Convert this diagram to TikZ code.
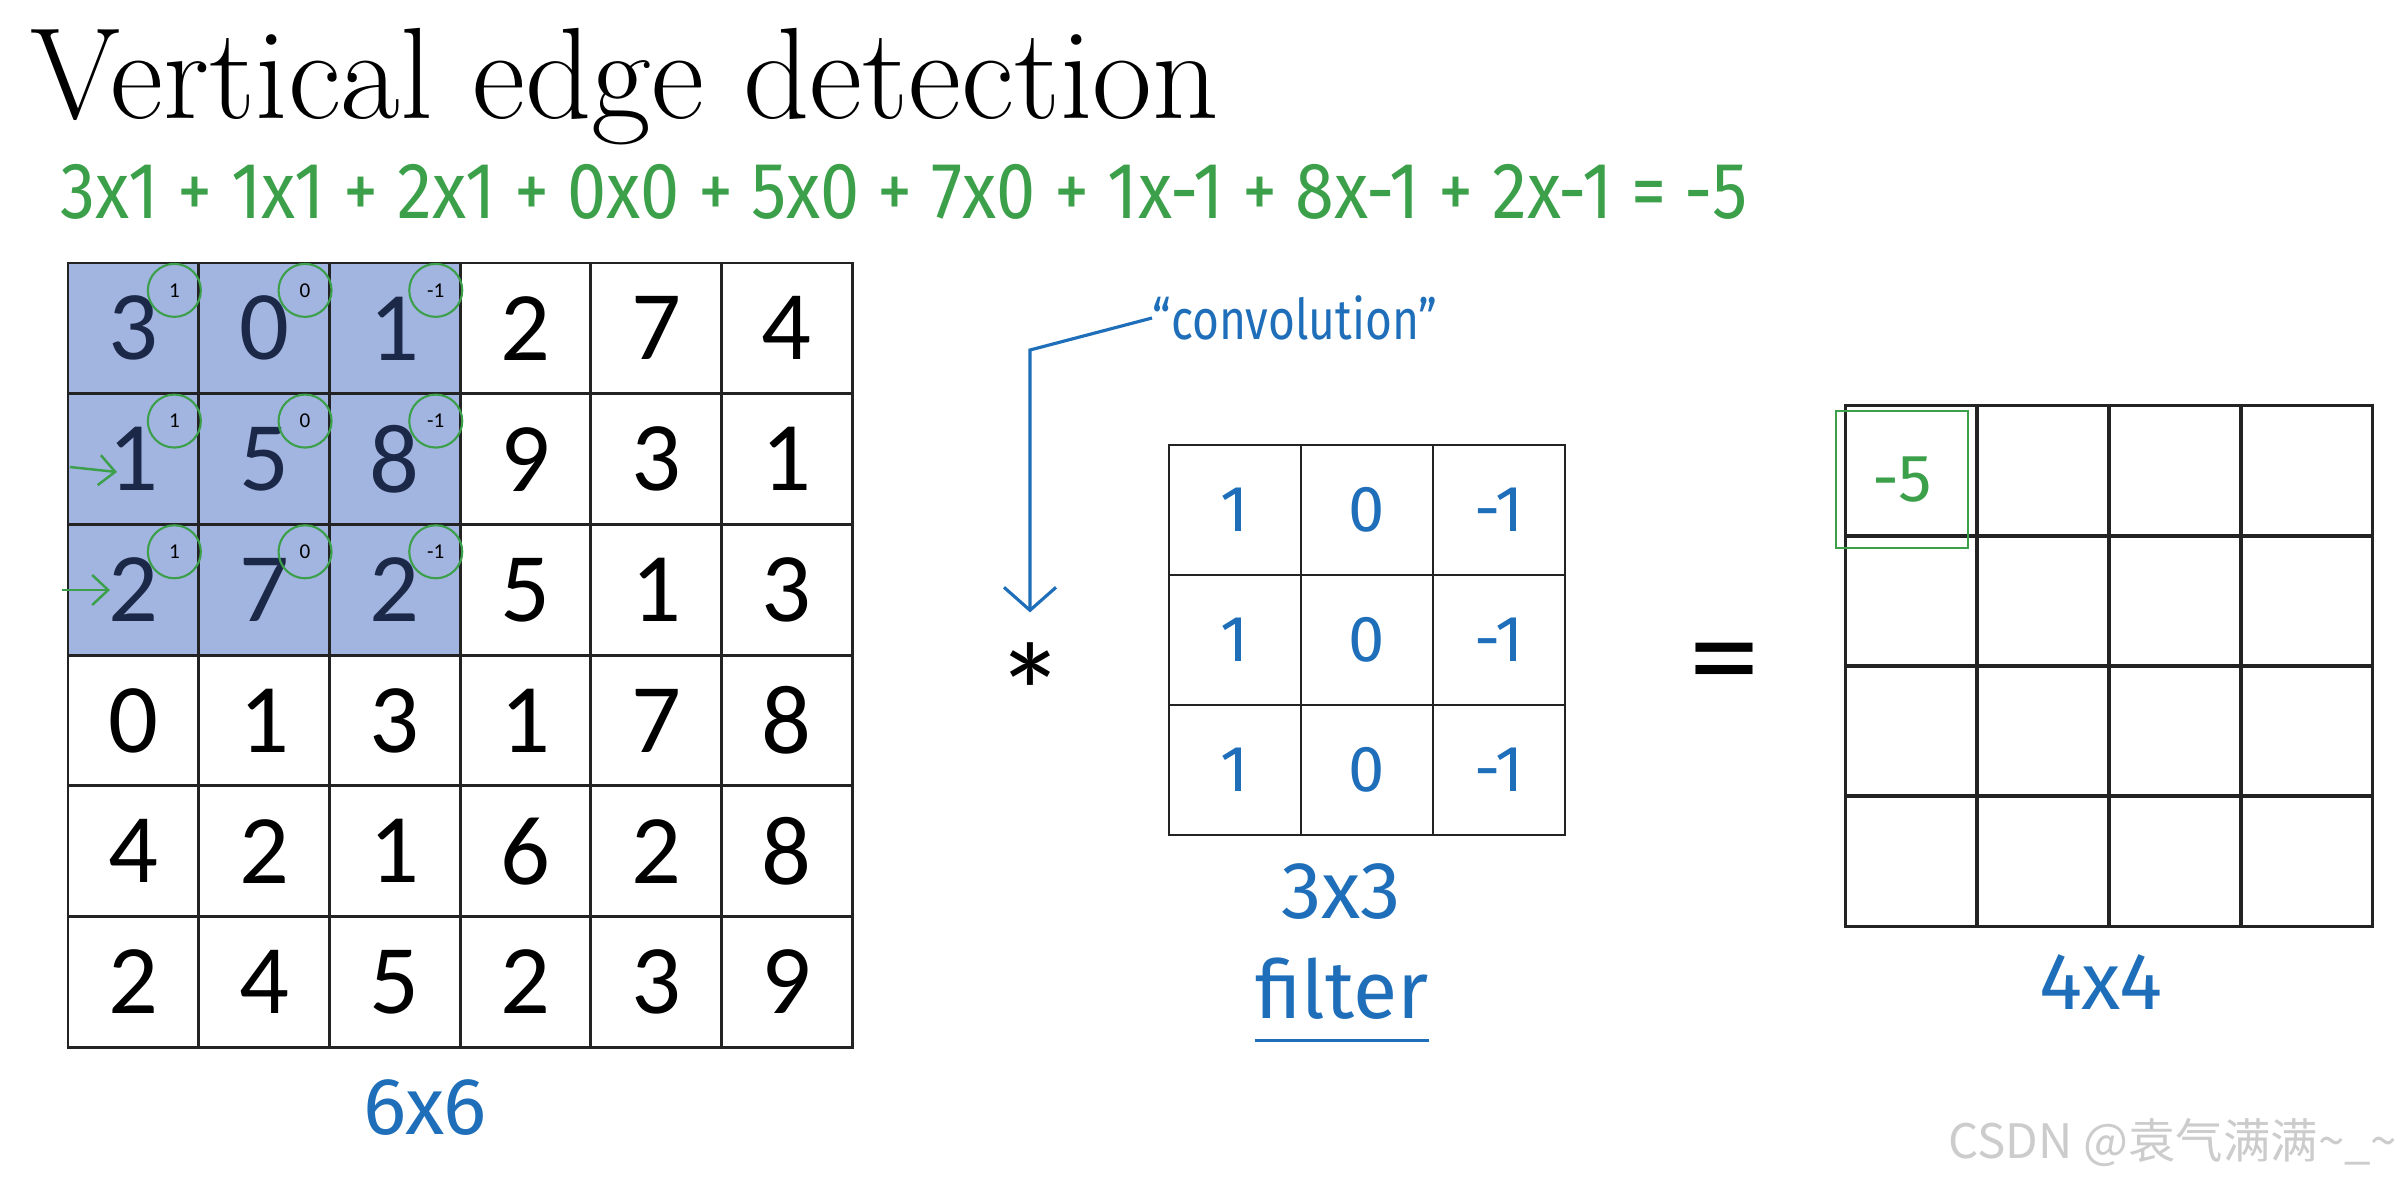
\documentclass[tikz,border=0pt]{standalone}
\usepackage{fontspec}
\usepackage{graphicx}
\usetikzlibrary{arrows.meta,calc}

\newfontfamily\cellfont{Carlito}
\newfontfamily\handfont{Fira Sans}
\newfontfamily\markfont{Noto Sans CJK SC}

\definecolor{handgreen}{RGB}{60,160,75}
\definecolor{handblue}{RGB}{30,110,185}
\definecolor{winblue}{RGB}{162,180,224}
\definecolor{navy}{RGB}{28,40,72}
\definecolor{gridline}{RGB}{35,35,35}

\tikzset{
  cell/.style={draw=gridline, line width=0.8pt, minimum width=13.07mm, minimum height=13.07mm,
    inner sep=0pt, font=\cellfont\fontsize{28}{30}\selectfont},
  kcell/.style={draw=gridline, line width=0.8pt, minimum width=13.2mm, minimum height=13mm,
    inner sep=0pt, text=handblue, font=\handfont\fontsize{18.5}{20}\selectfont},
  wcirc/.style={circle, draw=handgreen, line width=0.6pt, minimum size=5.3mm, inner sep=0pt,
    font=\cellfont\fontsize{6}{7}\selectfont},
  hand/.style={inner sep=0pt, text=handblue, font=\handfont\fontsize{23}{26}\selectfont},
  garrow/.style={handgreen, line width=0.7pt, ->},
  barrow/.style={handblue, line width=0.9pt, -{Straight Barb[length=2.3mm, width=5.2mm]}}
}

\begin{document}
\begin{tikzpicture}[x=0.1mm, y=-0.1mm, >={Straight Barb[length=1.6mm, width=3mm]}]

\fill[white] (0,0) rectangle (2405,1181);

\node[anchor=base west, inner sep=0pt, font=\fontsize{37}{44}\selectfont] (title) at (30,118) {Vertical edge detection};
\node[anchor=base west, inner sep=0pt, text=handgreen, font=\handfont\fontsize{22.7}{26}\selectfont] (sum) at (60,218)
  {\scalebox{0.88}[1]{3x1 + 1x1 + 2x1 + 0x0 + 5x0 + 7x0 + 1x-1 + 8x-1 + 2x-1 = -5}};

\fill[winblue] (68,263) rectangle (460,655);
\foreach \row [count=\r] in {{3,0,1,2,7,4},{1,5,8,9,3,1},{2,7,2,5,1,3},{0,1,3,1,7,8},{4,2,1,6,2,8},{2,4,5,2,3,9}}
  \foreach \v [count=\c] in \row {
    \ifnum\r<4 \ifnum\c<4 \def\ink{navy}\else\def\ink{black}\fi\else\def\ink{black}\fi
    \node[cell, text=\ink] (img-\r-\c) at ({68+130.7*(\c-0.5)},{263+130.7*(\r-0.5)}) {\v};
  }
\foreach \w [count=\c] in {1,0,-1}
  \foreach \r in {1,2,3}
    \node[wcirc] (w-\r-\c) at ($(img-\r-\c.center)+(41,-38)$) {\w};

\coordinate (p2) at (70,467);
\coordinate (q2) at (117,472);
\coordinate (p3) at (62,590);
\coordinate (q3) at (110,590);
\draw[garrow] (p2) -- (q2);
\draw[garrow] (p3) -- (q3);

\node[hand] (size6) at (425,1108) {6x6};

\node[anchor=west, inner sep=0pt, text=handblue, font=\handfont\fontsize{16}{18}\selectfont] (conv) at (1152,318)
  {\scalebox{0.82}[1]{“convolution”}};
\node[inner sep=0pt, font=\cellfont\fontsize{40}{40}\selectfont] (star) at (1030,693) {*};
\coordinate (bend) at (1030,350);
\draw[barrow, shorten >=3mm] (conv.west) -- (bend) -- (star.north);

\foreach \row [count=\r] in {{1,0,-1},{1,0,-1},{1,0,-1}}
  \foreach \v [count=\c] in \row
    \node[kcell] (ker-\r-\c) at ({1169+132*(\c-0.5)},{445+130*(\r-0.5)}) {\v};
\node[hand] (size3) at (1341,892) {3x3};
\node[hand] (filter) at (1342,989) {filter};
\draw[handblue, line width=1pt] ([yshift=-2mm]filter.south west) -- ([yshift=-2mm]filter.south east);

\node[inner sep=0pt, font=\cellfont\fontsize{40}{40}\selectfont] (eq) at (1724,673) {=};

\foreach \r in {1,...,4}
  \foreach \c in {1,...,4}
    \node[cell] (out-\r-\c) at ({1845+132*(\c-0.5)},{406+130*(\r-0.5)}) {};
\node[inner sep=0pt, text=handgreen, font=\handfont\fontsize{19}{20}\selectfont] (res) at (1902,480) {-5};
\node[draw=handgreen, line width=0.6pt, minimum width=13.2mm, minimum height=13.7mm] (pick) at (1902,479.5) {};
\node[hand] (size4) at (2101,982) {4x4};

\node[anchor=east, inner sep=0pt, text=gray!40, font=\markfont\fontsize{13.5}{15}\selectfont] (mark) at (2398,1143)
  {CSDN @袁气满满\textasciitilde\_\textasciitilde};

\end{tikzpicture}
\end{document}
